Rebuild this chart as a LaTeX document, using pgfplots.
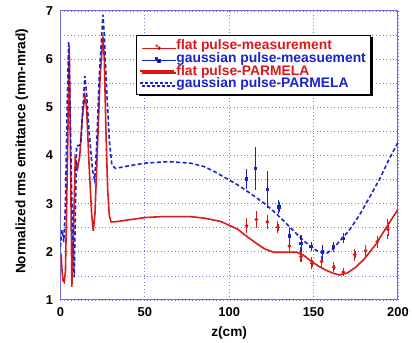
\documentclass[border=0pt]{standalone}
\usepackage{fontspec}
\setmainfont{Liberation Sans}
\usepackage{pgfplots}
\pgfplotsset{compat=1.18}
\usetikzlibrary{shadows}
\definecolor{cred}{RGB}{220,25,25}
\definecolor{cblue}{RGB}{25,35,205}
\definecolor{cframe}{RGB}{110,110,215}
\definecolor{cgrid}{RGB}{120,120,225}
\pgfplotsset{
  ptlegc/.style={legend image code/.code={\path[draw=none] (0cm,0cm) -- (1.2cm,0cm);\fill[##1, draw=none] (0.6cm,0cm) circle (1.4pt);}},
  ptlegs/.style={legend image code/.code={\path[draw=none] (0cm,0cm) -- (1.2cm,0cm);\fill[##1, draw=none] (0.55cm,-0.05cm) rectangle (0.65cm,0.05cm);}},
  lnleg/.style={legend image code/.code={\draw[##1] (0cm,0cm) -- (1.2cm,0cm);}},
}
\begin{document}
\begin{tikzpicture}
\begin{axis}[
  scale only axis, width=341pt, height=292pt,
  at={(0,0)}, anchor=south west,
  xmin=0, xmax=200, ymin=1, ymax=7,
  xtick={0,50,100,150,200}, ytick={1,2,3,4,5,6,7},
  minor ytick={1.5,2.5,3.5,4.5,5.5,6.5},
  grid=both,
  major grid style={cgrid, dash pattern=on 1pt off 2.5pt, line width=0.7pt},
  minor grid style={cgrid, dash pattern=on 1pt off 2.5pt, line width=0.7pt},
  axis line style={cframe, line width=1pt},
  tick style={draw=none},
  /pgf/number format/assume math mode=true,
  ticklabel style={font=\bfseries\fontsize{13}{15}\selectfont},
  xticklabel style={yshift=-4pt},
  yticklabel style={xshift=-4pt},
  xlabel={z(cm)}, ylabel={Normalized rms emittance (mm-mrad)},
  label style={font=\bfseries\fontsize{13.8}{15}\selectfont},
  xlabel style={at={(axis description cs:0.5,-0.113)}, anchor=center},
  ylabel style={at={(axis description cs:-0.114,0.514)}, anchor=center},
  legend cell align=left,
  legend style={at={(0.223,0.918)}, anchor=north west, draw=black, line width=0.8pt, fill=white,
    drop shadow={shadow xshift=2.5pt, shadow yshift=-2.5pt, fill=black, opacity=1},
    font=\bfseries\fontsize{14}{14.5}\selectfont, row sep=-3pt, inner sep=3pt},
]
\addlegendimage{cred, ptlegc}
\addlegendentry{\textcolor{cred}{flat pulse-measurement}}
\addlegendimage{cblue, ptlegs}
\addlegendentry{\textcolor{cblue}{gaussian pulse-measuement}}
\addlegendimage{cred, solid, line width=1.6pt, lnleg}
\addlegendentry{\textcolor{cred}{flat pulse-PARMELA}}
\addlegendimage{cblue, dash pattern=on 3pt off 2pt, line width=1.6pt, lnleg}
\addlegendentry{\textcolor{cblue}{gaussian pulse-PARMELA}}

% flat pulse PARMELA
\addplot[cred, line width=1.6pt, forget plot] coordinates {
(0,1.85)(0.5,1.9)(1,1.6)(1.5,1.4)(2.3,1.37)(3,1.6)(4,3.5)(5.3,6.27)(6,4)(6.8,1.27)(7.5,2)(8.8,3.94)(10.2,3.73)(11.5,4.0)(13,4.8)(14.5,5.24)(15.5,5.0)(17,3.8)(18.5,2.8)(19.5,2.43)(20.5,2.8)(22,4.2)(23.5,5.6)(25.2,6.47)(26,6.0)(27,4.5)(28,3.3)(29,2.75)(30,2.62)(32,2.62)(40,2.66)(50,2.71)(60,2.73)(77,2.73)(85,2.7)(95,2.63)(105,2.47)(110,2.33)(116.7,2.16)(121,2.06)(126.5,1.99)(135,1.99)(140,1.99)(144,1.93)(148,1.82)(153,1.7)(157.8,1.61)(162,1.55)(165.4,1.52)(170,1.56)(175,1.68)(180,1.85)(187,2.16)(193,2.5)(200,2.88)
};
% gaussian pulse PARMELA
\addplot[cblue, dash pattern=on 4pt off 2.5pt, line width=1.6pt, forget plot] coordinates {
(0,2.1)(0.5,2.3)(1,2.45)(2,2.2)(3,3)(4,5)(4.9,6.37)(5.5,5.5)(6.5,3.5)(7.5,2.2)(8.2,1.47)(9,3)(9.6,4.21)(11,4.2)(12.1,4.24)(13,4.8)(14.5,5.65)(15.5,5.3)(17,4.5)(19,3.7)(20.3,3.49)(21.5,4.2)(23,5.6)(25.2,6.92)(26,6.5)(27.5,5.3)(29,4.3)(30.5,3.8)(32.6,3.73)(40,3.78)(50,3.84)(64,3.87)(77,3.84)(85,3.77)(91,3.67)(98,3.53)(105,3.39)(113,3.2)(120.6,3.01)(126,2.85)(132.4,2.64)(138,2.44)(144,2.23)(148,2.12)(152,2.02)(155,1.98)(157.8,1.97)(161,2.05)(165,2.2)(171,2.44)(177,2.75)(183,3.12)(189,3.5)(195,3.94)(200,4.27)
};
% flat pulse measurement
\addplot[cred, only marks, mark=*, mark size=1.2pt, line width=1.2pt, forget plot,
  error bars/.cd, y dir=both, y explicit, error mark=-, error mark options={mark size=2.5pt, line width=1.2pt}]
  coordinates {
(110.3,2.54) +- (0,0.1)
(116.1,2.67) +- (0,0.12)
(122.6,2.62) +- (0,0.1)
(128.8,2.51) +- (0,0.07)
(135.7,2.12) +- (0,0.06)
(142.5,1.90) +- (0,0.07)
(149,1.76) +- (0,0.07)
(154.8,1.80) +- (0,0.07)
(162,1.68) +- (0,0.05)
(167.6,1.58) +- (0,0.03)
(174.4,1.94) +- (0,0.07)
(180.8,2.02) +- (0,0.07)
(187.7,2.21) +- (0,0.07)
(194,2.47) +- (0,0.15)
};
% gaussian pulse measurement
\addplot[cblue, only marks, mark=square*, mark size=1.2pt, line width=1.2pt, forget plot,
  error bars/.cd, y dir=both, y explicit, error mark=-, error mark options={mark size=2.5pt, line width=1.2pt}]
  coordinates {
(110.3,3.51) +- (0,0.15)
(115.7,3.73) +- (0,0.4)
(122.6,3.29) +- (0,0.33)
(129.4,2.93) +- (0,0.1)
(135.7,2.33) +- (0,0.11)
(142.5,2.17) +- (0,0.12)
(148.6,2.11) +- (0,0.05)
(155.4,1.99) +- (0,0.1)
(161.7,2.10) +- (0,0.05)
(167.6,2.28) +- (0,0.05)
};
\end{axis}
\path[use as bounding box] (-61pt,-42pt) rectangle (351pt,303pt);
\end{tikzpicture}
\end{document}
